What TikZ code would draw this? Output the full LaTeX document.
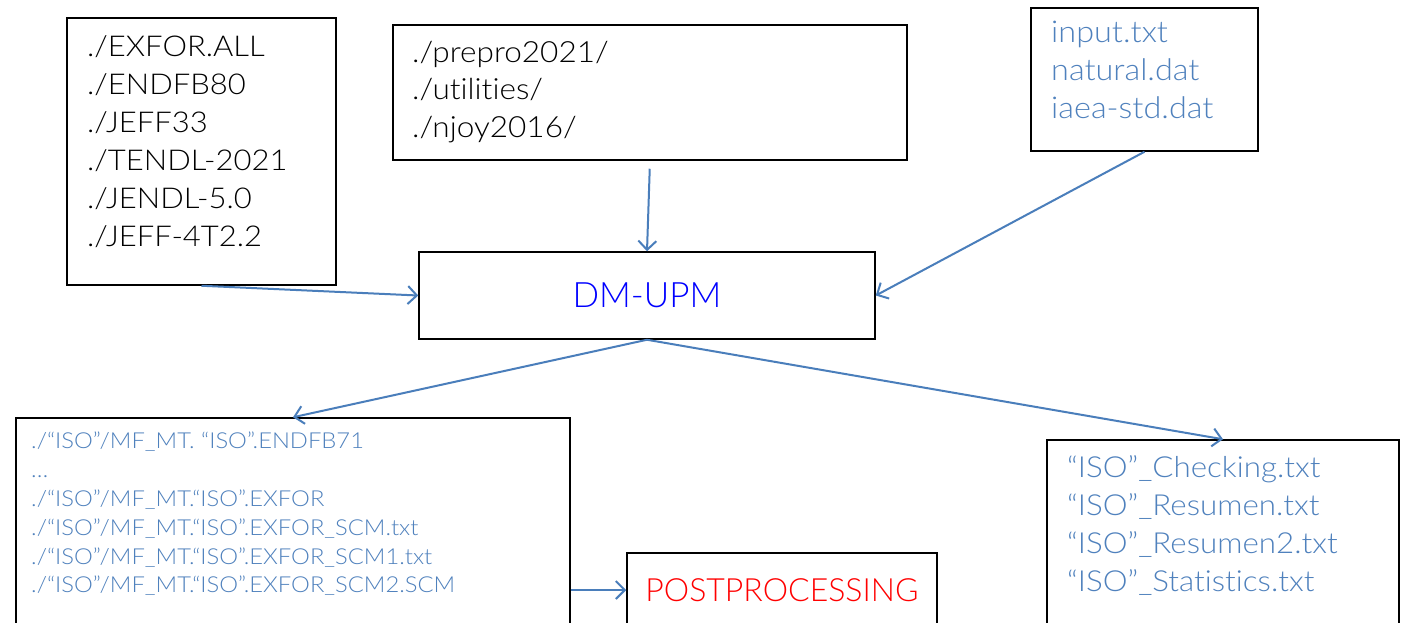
\documentclass[tikz,border=0pt]{standalone}
\usepackage{fontspec}
\setmainfont{Lato Light}[Ligatures={NoCommon}]
\newfontfamily\widefont{Lato Light}[Ligatures={NoCommon},FakeStretch=1.08]
\usetikzlibrary{arrows.meta}
\definecolor{txtblue}{HTML}{4F81BD}
\definecolor{arrblue}{HTML}{4A7EBB}
\tikzset{
  box/.style={draw=black, line width=1.5pt, rectangle, inner sep=0pt},
  lines/.style={anchor=north west, align=left, inner sep=0pt},
  conn/.style={draw=arrblue, line width=2pt, -{Straight Barb[length=9pt,width=18pt,line width=2pt]}},
}
\begin{document}
\begin{tikzpicture}[x=1pt,y=-1pt]
\useasboundingbox (0,0) rectangle (1407,622);
\clip (0,0) rectangle (1407,622);
\fill[white] (0,0) rectangle (1407,622);
% boxes
\node[box, minimum width=269pt, minimum height=267pt] (A) at (201.5,151.5) {};
\node[box, minimum width=514pt, minimum height=135pt] (B) at (650,92.5) {};
\node[box, minimum width=227pt, minimum height=143pt] (C) at (1144.5,79.5) {};
\node[box, minimum width=456pt, minimum height=87pt, font=\fontsize{35}{42}\selectfont, text=blue] (DM) at (647,295.5) {DM-UPM};
\node[box, minimum width=554pt, minimum height=344pt] (D) at (293,590) {};
\node[box, minimum width=310pt, minimum height=74pt, font=\fontsize{32}{38}\selectfont, text=red] (P) at (782,590) {POSTPROCESSING};
\node[box, minimum width=352pt, minimum height=300pt] (E) at (1223,590) {};
% texts
\node[lines, font=\widefont\fontsize{28.7}{38}\selectfont] (At) at (87,35) {./EXFOR.ALL\\./ENDFB80\\./JEFF33\\./TENDL-2021\\./JENDL-5.0\\./JEFF-4T2.2};
\node[lines, font=\widefont\fontsize{29.2}{37.5}\selectfont] (Bt) at (412,41) {./prepro2021/\\./utilities/\\./njoy2016/};
\node[lines, font=\widefont\fontsize{30}{38}\selectfont, text=txtblue] (Ct) at (1051,21) {input.txt\\natural.dat\\iaea-std.dat};
\node[lines, font=\widefont\fontsize{22}{28.8}\selectfont, text=txtblue] (Dt) at (31,432) {./“ISO”/MF\_MT. “ISO”.ENDFB71\\…\\./“ISO”/MF\_MT.“ISO”.EXFOR\\./“ISO”/MF\_MT.“ISO”.EXFOR\_SCM.txt\\./“ISO”/MF\_MT.“ISO”.EXFOR\_SCM1.txt\\./“ISO”/MF\_MT.“ISO”.EXFOR\_SCM2.SCM};
\node[lines, font=\widefont\fontsize{29}{38}\selectfont, text=txtblue] (Et) at (1067,455) {“ISO”\_Checking.txt\\“ISO”\_Resumen.txt\\“ISO”\_Resumen2.txt\\“ISO”\_Statistics.txt};
% connectors
\draw[conn] (A.south) -- (DM.west);
\draw[conn, shorten <=8pt] (B.south) -- (DM.north);
\draw[conn] (C.south) -- (DM.east);
\draw[conn] (DM.south) -- (D.north);
\draw[conn] (DM.south) -- (E.north);
\draw[conn] (D.east) -- (P.west);
\end{tikzpicture}
\end{document}
